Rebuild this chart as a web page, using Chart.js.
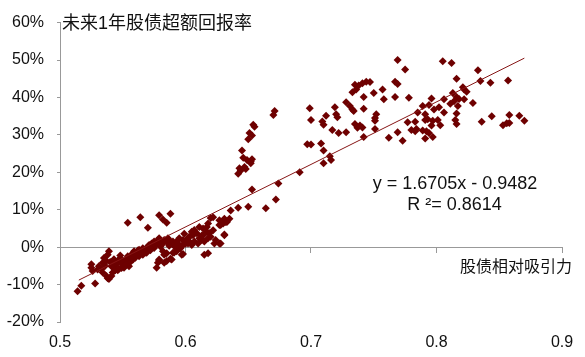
<!DOCTYPE html>
<html><head><meta charset="utf-8">
<script src="https://cdn.jsdelivr.net/npm/chart.js@4/dist/chart.umd.min.js"></script>
<style>html,body{margin:0;padding:0;background:#fff;} #wrap{width:585px;height:357px;position:relative;}</style>
</head><body><div id="wrap"><canvas id="c"></canvas></div>
<script>
// 股债相对吸引力 (x) and 未来1年股债超额回报率 in % (y)
const attractiveness = [
0.805,0.812,0.833,0.816,0.835,0.843,0.857,0.821,0.822,0.824,0.813,0.796,0.806,0.811,0.814,0.816,0.818,0.817,0.822,0.829,
0.789,0.794,0.798,0.802,0.806,0.791,0.793,0.797,0.801,0.803,0.796,0.816,0.815,0.816,0.836,0.844,0.853,0.856,0.858,0.858,
0.866,0.870,0.792,0.794,0.791,0.797,0.769,0.775,0.735,0.738,0.741,0.744,0.747,0.736,0.733,0.767,0.769,0.757,0.750,0.742,
0.758,0.767,0.778,0.728,0.719,0.731,0.733,0.734,0.742,0.699,0.712,0.720,0.721,0.700,0.709,0.710,0.752,0.751,0.751,0.735,
0.739,0.741,0.737,0.717,0.722,0.728,0.751,0.742,0.697,0.700,0.708,0.710,0.715,0.716,0.710,0.762,0.769,0.773,0.777,0.783,
0.780,0.783,0.784,0.785,0.791,0.789,0.691,0.671,0.670,0.654,0.655,0.651,0.653,0.650,0.645,0.646,0.649,0.652,0.653,0.652,
0.643,0.644,0.642,0.647,0.648,0.674,0.653,0.672,0.636,0.642,0.650,0.664,0.631,0.632,0.628,0.631,0.628,
0.514,0.517,0.528,0.525,0.526,0.525,0.531,0.533,0.534,0.537,0.538,0.534,0.537,0.539,0.538,0.535,0.539,0.541,0.542,0.543,
0.541,0.545,0.546,0.547,0.549,0.550,0.551,0.553,0.554,0.555,0.557,0.558,0.559,0.561,0.562,0.563,0.565,0.566,0.553,0.555,
0.551,0.554,0.567,0.569,0.570,0.571,0.573,0.574,0.575,0.577,0.578,0.579,0.581,0.582,0.583,0.585,0.586,0.587,0.589,0.590,
0.591,0.593,0.594,0.595,0.596,0.598,0.599,0.601,0.602,0.577,0.579,0.585,0.588,0.590,0.593,0.597,0.582,0.585,0.554,0.564,
0.570,0.579,0.582,0.585,0.588,0.598,0.603,0.606,0.609,0.611,0.614,0.617,0.619,0.622,0.602,0.605,0.607,0.610,0.613,0.615,
0.618,0.620,0.614,0.617,0.607,0.611,0.605,0.595,0.599,0.627,0.630,0.633,0.624,0.627,0.623,0.618,0.615,0.583,0.579,0.578,
0.583,0.620,0.618,0.627,0.631,0.613,0.598,0.591,0.589,0.544,0.547,0.549,0.546,0.552,0.556,0.558,0.560,0.563,0.566,0.569,
0.572,0.575,0.540,0.543,0.548,0.622,0.635,0.530,0.536,0.543,0.548,0.557,0.561,0.568,0.572,0.580,0.587,0.592,0.600,0.604
];
const excessReturn = [
49.7,49.2,47.3,45.0,44.4,43.9,44.5,42.7,42.1,41.5,41.2,39.7,39.5,38.3,39.0,40.1,39.6,37.7,39.5,38.5,
37.7,38.0,36.8,37.4,36.0,35.5,34.2,33.8,34.0,32.6,32.5,35.7,34.0,32.9,33.5,35.0,32.6,33.1,33.2,35.3,
35.1,33.8,31.0,30.5,29.0,29.4,50.0,47.5,43.4,43.2,43.8,44.2,44.1,42.1,41.4,44.2,43.6,42.1,41.2,40.1,
39.5,40.1,39.9,38.7,37.4,37.7,36.8,36.4,37.0,37.1,35.1,35.5,34.7,34.0,33.6,32.7,35.5,33.8,34.5,32.9,
32.5,32.0,31.9,31.3,30.5,30.7,31.6,29.4,27.5,27.4,27.7,25.8,24.3,23.3,22.4,29.2,30.7,28.4,33.4,33.5,
31.3,31.0,31.6,36.0,34.0,31.2,20.0,36.4,35.3,32.7,32.2,30.5,29.8,28.8,25.8,23.9,23.3,22.9,23.5,22.4,
21.1,20.5,19.6,21.4,20.9,17.0,15.4,12.7,9.8,10.5,10.8,10.4,7.6,6.7,5.9,3.4,1.0,
-11.8,-10.3,-9.7,-4.6,-6.4,-5.5,-5.1,-5.9,-6.8,-7.7,-8.3,-4.2,-3.7,-1.1,-2.0,-2.9,-8.5,-7.7,-6.8,-5.5,
-5.1,-4.6,-3.7,-3.3,-4.2,-5.1,-3.7,-3.3,-2.4,-2.9,-2.0,-1.6,-1.1,-1.6,-0.9,-0.7,-1.1,-0.3,-4.6,-5.1,
-5.5,-4.2,-0.7,-0.3,0.2,0.6,1.0,0.6,1.5,1.0,1.9,2.4,1.5,1.0,1.9,1.5,2.4,1.9,1.0,1.5,
0.6,1.5,1.0,0.2,-0.3,0.6,1.5,1.9,2.4,-5.5,-3.6,-3.7,-3.1,-1.5,-1.1,-2.0,-1.1,-1.6,6.5,8.0,
5.2,8.5,7.4,6.5,8.9,1.9,2.8,3.2,3.7,2.4,3.2,4.1,3.7,4.5,1.0,0.6,1.5,1.0,1.9,1.5,
2.4,2.8,5.0,5.4,4.6,5.4,4.1,2.4,3.6,7.2,6.3,6.7,1.9,1.0,1.0,-1.6,-2.0,-2.0,-3.3,-4.2,
-4.2,7.8,6.3,5.9,3.2,3.1,-1.8,-1.4,-3.3,-6.2,-5.8,-5.6,-6.2,-4.8,-4.0,-3.4,-2.8,-2.4,-2.0,-1.5,
-0.8,-0.2,-4.0,-3.2,-2.2,8.0,7.6,-6.0,-5.0,-4.0,-3.0,-2.6,-2.2,-1.4,-0.4,0.2,0.4,0.0,0.9,1.2
];
// fitted trend line endpoints
const trendX = [0.515, 0.870];
const trendY = [-8.8, 50.5];
const xTicks = [0.5, 0.6, 0.7, 0.8, 0.9];
const yTicks = [-20, -10, 0, 10, 20, 30, 40, 50, 60];
const yTitle = '未来1年股债超额回报率';
const xTitle = '股债相对吸引力';
const eqLine1 = 'y = 1.6705x - 0.9482';
const eqLine2 = 'R ²= 0.8614';

const points = attractiveness.map((x, i) => ({x: x, y: excessReturn[i]}));
const trend = trendX.map((x, i) => ({x: x, y: trendY[i]}));
const FONT = "'Liberation Sans', Arial, 'Noto Sans CJK SC', sans-serif";

const textPlugin = {
  id: 'texts',
  afterDraw(chart) {
    const ctx = chart.ctx, ca = chart.chartArea, ys = chart.scales.y;
    ctx.save();
    ctx.fillStyle = '#111';
    ctx.textBaseline = 'middle';
    ctx.font = "18px " + FONT;
    ctx.textAlign = 'left';
    ctx.fillText(yTitle, ca.left + 2, ys.getPixelForValue(60) + 1.5);
    ctx.font = "16px " + FONT;
    ctx.textAlign = 'right';
    ctx.fillText(xTitle, 572, 268);
    ctx.font = "18px " + FONT;
    ctx.textAlign = 'center';
    ctx.fillText(eqLine1, 455, 184);
    ctx.fillText(eqLine2, 454.5, 205);
    ctx.restore();
  }
};

new Chart(document.getElementById('c'), {
  type: 'scatter',
  data: {
    datasets: [
      {type: 'line', data: trend, borderColor: '#861515', borderWidth: 1, pointRadius: 0, fill: false, order: 0},
      {data: points, pointStyle: 'rectRot', pointRadius: 4, backgroundColor: '#6e0000', borderColor: '#6e0000', borderWidth: 0, order: 1}
    ]
  },
  options: {
    responsive: true,
    maintainAspectRatio: false,
    animation: false,
    events: [],
    layout: {padding: {left: 0, right: 23, top: 16, bottom: 0}},
    plugins: {legend: {display: false}, tooltip: {enabled: false}},
    scales: {
      x: {
        type: 'linear', position: 'bottom', min: 0.5, max: 0.9,
        grid: {display: false, drawTicks: false},
        border: {display: false},
        afterBuildTicks: s => { s.ticks = xTicks.map(v => ({value: v})); },
        afterFit: s => { s.height = 35; },
        ticks: {font: {size: 16, family: FONT}, color: '#111', padding: 11, maxRotation: 0, callback: v => Number(v).toFixed(1)}
      },
      x0: {
        type: 'linear', axis: 'x', position: {y: 0}, min: 0.5, max: 0.9,
        grid: {drawOnChartArea: false, drawTicks: true, tickLength: 5, color: '#999'},
        border: {display: true, color: '#999', width: 1},
        afterBuildTicks: s => { s.ticks = xTicks.map(v => ({value: v})); },
        ticks: {display: false}
      },
      y: {
        type: 'linear', position: 'left', min: -20, max: 60,
        grid: {drawOnChartArea: false, drawTicks: true, tickLength: 3, color: '#999'},
        border: {display: true, color: '#999', width: 1},
        afterBuildTicks: s => { s.ticks = yTicks.map(v => ({value: v})); },
        afterFit: s => { s.width = 60; },
        ticks: {font: {size: 16, family: FONT}, color: '#111', padding: 13, callback: v => v + '%'}
      }
    }
  },
  plugins: [textPlugin]
});
</script>
</body></html>
